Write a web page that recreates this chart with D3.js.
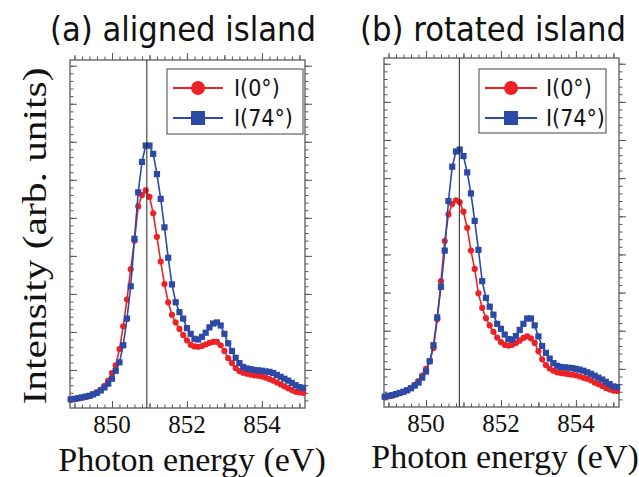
<!DOCTYPE html>
<html>
<head>
<meta charset="utf-8">
<script src="https://cdn.jsdelivr.net/npm/d3@7"></script>
<style>
  body { margin: 0; background: #fff; }
  svg { display: block; }
</style>
</head>
<body>
<svg id="chart" width="639" height="477"></svg>
<script>
// photon energy grid (eV), same for both spectra
var energy = [848.9, 849.0, 849.1, 849.2, 849.3, 849.4, 849.5, 849.6, 849.7, 849.8,
  849.9, 850.0, 850.1, 850.2, 850.3, 850.4, 850.5, 850.6, 850.7, 850.8,
  850.9, 851.0, 851.1, 851.2, 851.3, 851.4, 851.5, 851.6, 851.7, 851.8,
  851.9, 852.0, 852.1, 852.2, 852.3, 852.4, 852.5, 852.6, 852.7, 852.8,
  852.9, 853.0, 853.1, 853.2, 853.3, 853.4, 853.5, 853.6, 853.7, 853.8,
  853.9, 854.0, 854.1, 854.2, 854.3, 854.4, 854.5, 854.6, 854.7, 854.8,
  854.9, 855.0, 855.1];

// (a) aligned island
var alignedI0 = [0.22, 0.23, 0.25, 0.27, 0.29, 0.32, 0.36, 0.41, 0.48, 0.58,
  0.72, 0.92, 1.12, 1.55, 2.15, 2.85, 3.65, 4.40, 5.30, 5.60,
  5.72, 5.55, 5.12, 4.50, 3.85, 3.26, 2.78, 2.45, 2.25, 2.08,
  1.92, 1.78, 1.66, 1.62, 1.61, 1.63, 1.67, 1.71, 1.74, 1.74,
  1.65, 1.50, 1.31, 1.18, 1.05, 0.97, 0.93, 0.90, 0.88, 0.86,
  0.85, 0.83, 0.80, 0.76, 0.72, 0.67, 0.62, 0.57, 0.52, 0.47,
  0.43, 0.41, 0.40];
var alignedI74 = [0.23, 0.24, 0.26, 0.28, 0.30, 0.32, 0.36, 0.40, 0.46, 0.54,
  0.64, 0.77, 0.98, 1.20, 1.65, 2.35, 3.20, 4.45, 5.67, 6.47,
  6.90, 6.90, 6.68, 6.15, 5.50, 4.75, 3.95, 3.25, 2.78, 2.52,
  2.35, 2.10, 1.95, 1.82, 1.80, 1.87, 1.98, 2.12, 2.22, 2.25,
  2.17, 1.95, 1.70, 1.50, 1.32, 1.18, 1.08, 1.04, 1.02, 1.00,
  0.99, 0.98, 0.96, 0.95, 0.92, 0.87, 0.82, 0.77, 0.72, 0.66,
  0.60, 0.55, 0.53];

// (b) rotated island
var rotatedI0 = [0.26, 0.28, 0.30, 0.33, 0.36, 0.40, 0.44, 0.50, 0.58, 0.68,
  0.82, 1.00, 1.20, 1.55, 2.30, 3.30, 4.35, 5.05, 5.32, 5.42,
  5.37, 5.12, 4.70, 4.10, 3.62, 2.98, 2.60, 2.33, 2.14, 1.97,
  1.82, 1.70, 1.63, 1.61, 1.63, 1.68, 1.74, 1.81, 1.85, 1.80,
  1.68, 1.46, 1.25, 1.10, 1.01, 0.95, 0.91, 0.89, 0.88, 0.86,
  0.85, 0.83, 0.80, 0.77, 0.74, 0.70, 0.64, 0.60, 0.55, 0.50,
  0.46, 0.43, 0.42];
var rotatedI74 = [0.27, 0.29, 0.31, 0.34, 0.37, 0.40, 0.44, 0.49, 0.56, 0.64,
  0.77, 0.93, 1.20, 1.62, 2.35, 3.15, 4.10, 5.40, 6.30, 6.70,
  6.75, 6.58, 6.15, 5.60, 4.88, 4.12, 3.30, 2.86, 2.63, 2.42,
  2.18, 2.05, 1.90, 1.78, 1.77, 1.86, 2.02, 2.18, 2.32, 2.32,
  2.14, 1.85, 1.60, 1.42, 1.27, 1.15, 1.08, 1.05, 1.04, 1.03,
  1.02, 1.00, 0.98, 0.95, 0.91, 0.87, 0.82, 0.77, 0.72, 0.66,
  0.60, 0.54, 0.52];

// reference energy marked by the vertical line
var refLineE = [850.93, 850.89];

var panelTitles = ["(a) aligned island", "(b) rotated island"];
var seriesNames = ["I(0°)", "I(74°)"];
var xTickValues = [850, 852, 854];
var xLabel = "Photon energy (eV)";
var yLabel = "Intensity (arb. units)";

var red = "#ec2227", blue = "#2c4aa5";
var serif = "'Liberation Serif', 'Times New Roman', serif";
var sans = "'DejaVu Sans Condensed', 'DejaVu Sans', sans-serif";

var svg = d3.select("#chart");

// panel boxes (pixels)
var panels = [
  {left: 70, top: 60, width: 235, height: 348, i0: alignedI0, i74: alignedI74,
   line: refLineE[0], title: panelTitles[0], titleX: 183, xlabX: 192, xlabY: 471,
   legend: {x: 167, y: 69, w: 136, h: 65, lx0: 173, lx1: 223, tx: 234}},
  {left: 384, top: 58, width: 235, height: 349, i0: rotatedI0, i74: rotatedI74,
   line: refLineE[1], title: panelTitles[1], titleX: 493, xlabX: 505, xlabY: 468,
   legend: {x: 479, y: 69, w: 127, h: 64, lx0: 485, lx1: 537, tx: 546}}
];

panels.forEach(function(p) {
  var g = svg.append("g")
      .attr("transform", "translate(" + p.left + "," + p.top + ")");

  var x = d3.scaleLinear().domain([848.88, 855.15]).range([0, p.width]);
  var y = d3.scaleLinear().domain([0, 9.15]).range([p.height, 0]);

  var data = energy.map(function(e, i) { return {e: e, a: p.i0[i], b: p.i74[i]}; });

  // minor / major ticks, drawn inward on all four sides
  var xMinor = d3.range(0, 31).map(function(i) { return 849 + i * 0.2; });
  var xMid = [849, 851, 853, 855];
  var yMinor = d3.range(1, 46).map(function(i) { return i * 0.2; });
  var yMajor = d3.range(1, 10);

  function tickAxis(axisFn, scale, values, size, transform) {
    g.append("g")
        .attr("class", "ticks")
        .attr("transform", transform)
        .call(axisFn(scale).tickValues(values).tickSize(size).tickFormat(""))
        .call(function(s) { s.select(".domain").remove(); });
  }
  var bottomT = "translate(0," + p.height + ")", rightT = "translate(" + p.width + ",0)";
  tickAxis(d3.axisBottom, x, xMinor, -3.5, bottomT);
  tickAxis(d3.axisBottom, x, xMid, -5, bottomT);
  tickAxis(d3.axisBottom, x, xTickValues, -7, bottomT);
  tickAxis(d3.axisTop, x, xMinor, 3.5, "");
  tickAxis(d3.axisTop, x, xMid, 5, "");
  tickAxis(d3.axisTop, x, xTickValues, 7, "");
  tickAxis(d3.axisLeft, y, yMinor, -3.5, "");
  tickAxis(d3.axisLeft, y, yMajor, -7, "");
  tickAxis(d3.axisRight, y, yMinor, 3.5, rightT);
  tickAxis(d3.axisRight, y, yMajor, 7, rightT);

  g.selectAll("g line").attr("stroke", "#555").attr("stroke-width", 1);

  // tick labels (serif, like the original figure)
  g.selectAll(".xlab")
      .data(xTickValues)
      .enter().append("text")
      .attr("class", "xlab")
      .attr("x", function(d) { return x(d); })
      .attr("y", p.height + 25)
      .attr("text-anchor", "middle")
      .style("font-family", serif)
      .style("font-size", "25px")
      .attr("fill", "#111")
      .text(function(d) { return d; });

  // frame
  g.append("rect")
      .attr("width", p.width)
      .attr("height", p.height)
      .attr("fill", "none")
      .attr("stroke", "#666")
      .attr("stroke-width", 1.4);

  var line = d3.line().x(function(d) { return x(d.e); });

  // I(0) red circles
  g.append("path")
      .datum(data)
      .attr("fill", "none")
      .attr("stroke", red)
      .attr("stroke-width", 1.6)
      .attr("d", line.y(function(d) { return y(d.a); }));
  g.selectAll(".dot0")
      .data(data)
      .enter().append("circle")
      .attr("class", "dot0")
      .attr("cx", function(d) { return x(d.e); })
      .attr("cy", function(d) { return y(d.a); })
      .attr("r", 3.1)
      .attr("fill", red);

  // I(74) blue squares
  g.append("path")
      .datum(data)
      .attr("fill", "none")
      .attr("stroke", blue)
      .attr("stroke-width", 1.6)
      .attr("d", line.y(function(d) { return y(d.b); }));
  g.selectAll(".sq74")
      .data(data)
      .enter().append("rect")
      .attr("class", "sq74")
      .attr("x", function(d) { return x(d.e) - 3.1; })
      .attr("y", function(d) { return y(d.b) - 3.1; })
      .attr("width", 6.2)
      .attr("height", 6.2)
      .attr("fill", blue);

  // vertical reference line
  g.append("line")
      .attr("x1", x(p.line)).attr("x2", x(p.line))
      .attr("y1", 0).attr("y2", p.height)
      .attr("stroke", "#222")
      .attr("stroke-width", 1);

  // legend
  var L = p.legend;
  svg.append("rect")
      .attr("x", L.x).attr("y", L.y)
      .attr("width", L.w).attr("height", L.h)
      .attr("fill", "#fff")
      .attr("stroke", "#444")
      .attr("stroke-width", 1);
  [0, 1].forEach(function(k) {
    var ly = L.y + 19 + k * 30;
    var col = k == 0 ? red : blue;
    svg.append("line")
        .attr("x1", L.lx0).attr("x2", L.lx1)
        .attr("y1", ly).attr("y2", ly)
        .attr("stroke", col)
        .attr("stroke-width", 2);
    var cx = (L.lx0 + L.lx1) / 2;
    if (k == 0) {
      svg.append("circle").attr("cx", cx).attr("cy", ly).attr("r", 7).attr("fill", col);
    } else {
      svg.append("rect").attr("x", cx - 7).attr("y", ly - 7).attr("width", 14).attr("height", 14).attr("fill", col);
    }
    svg.append("text")
        .attr("x", L.tx)
        .attr("y", ly + 8)
        .style("font-family", sans)
        .style("font-stretch", "condensed")
        .style("font-size", "23px")
        .attr("fill", "#111")
        .text(seriesNames[k]);
  });

  // panel title
  svg.append("text")
      .attr("x", p.titleX)
      .attr("y", 41)
      .attr("text-anchor", "middle")
      .attr("textLength", 266)
      .attr("lengthAdjust", "spacingAndGlyphs")
      .style("font-family", sans)
      .style("font-stretch", "condensed")
      .style("font-size", "33px")
      .attr("fill", "#111")
      .text(p.title);

  // x axis label
  svg.append("text")
      .attr("x", p.xlabX)
      .attr("y", p.xlabY)
      .attr("text-anchor", "middle")
      .style("font-family", serif)
      .style("font-size", "34px")
      .attr("fill", "#111")
      .text(xLabel);
});

// y axis label
svg.append("text")
    .attr("transform", "translate(46,236) rotate(-90)")
    .attr("text-anchor", "middle")
    .attr("textLength", 337)
    .attr("lengthAdjust", "spacingAndGlyphs")
    .style("font-family", serif)
    .style("font-size", "33px")
    .attr("fill", "#111")
    .text(yLabel);
</script>
</body>
</html>
